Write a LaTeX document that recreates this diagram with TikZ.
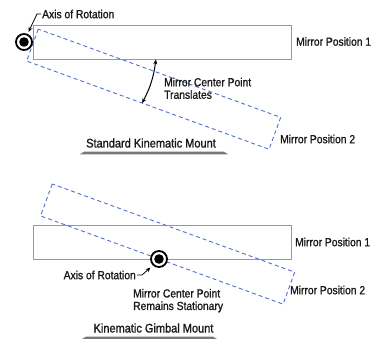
\documentclass[tikz,border=0pt]{standalone}
\usepackage{fontspec}
\setmainfont{Liberation Sans}[FakeStretch=0.88, FakeBold=1.2]
\usetikzlibrary{arrows.meta}
\definecolor{mirrorblue}{RGB}{128,152,214}
\definecolor{dashblue}{RGB}{78,112,206}
\definecolor{barg}{RGB}{120,120,120}
\definecolor{txt}{RGB}{25,25,25}
\begin{document}
\begin{tikzpicture}[x=1pt,y=-1pt,
  lbl/.style={font=\fontsize{11.7}{12}\selectfont, text=txt, inner sep=0pt, anchor=base west},
  lbltwo/.style={font=\fontsize{11.7}{12.5}\selectfont, text=txt, inner sep=0pt, anchor=north west, align=left},
  heading/.style={font=\fontsize{12.5}{13}\selectfont, text=txt, inner sep=0pt, anchor=base},
  mirrorpos/.style={draw=mirrorblue, line width=0.9pt},
  mirrordash/.style={draw=dashblue, line width=0.9pt, dash pattern=on 4pt off 3pt},
  axisring/.style={circle, draw=black, line width=1.8pt, fill=white, minimum size=16pt, inner sep=0pt},
  leader/.style={draw=black, line width=0.8pt, -{Stealth[length=5pt,width=4pt]}},
  swing/.style={draw=black, line width=1pt, {Stealth[length=5pt,width=4pt]}-{Stealth[length=5pt,width=4pt]}}
]
\useasboundingbox (0,0) rectangle (377,339);

% ---------------- Standard kinematic mount ----------------
\draw[mirrorpos] (33,25) rectangle (291,59);
\begin{scope}[shift={(24,42)}, rotate=-20]
  \draw[mirrordash] (9,-17) rectangle (267,17);
\end{scope}
\node[axisring] (ax1) at (24,42) {};
\fill[black] (ax1.center) circle[radius=4.8pt];

\node[lbl] (axl1) at (42,18.2) {Axis of Rotation};
\coordinate (ax1tip) at (28.5,32);
\draw[leader] ([xshift=-1pt]axl1.west) -- ++(-4,0) -- (ax1tip);

\node[lbl] (mp1a) at (296,45.7) {Mirror Position 1};
\node[lbl] (mp2a) at (280,143.2) {Mirror Position 2};

\coordinate (arcA) at (155.9,59.4);
\coordinate (arcB) at (142.1,103.2);
\draw[swing] (arcA) to[bend left=10] (arcB);
\node[lbltwo] (ctr1) at (164,77.6) {Mirror Center Point\\Translates};

\node[heading] (h1) at (151,147.5) {Standard Kinematic Mount};
\fill[barg] (80,154.3) -- (84,151.7) -- (224,151.7) -- (228,154.3) -- cycle;

% ---------------- Kinematic gimbal mount ----------------
\draw[mirrorpos] (33,225) rectangle (291,259);
\begin{scope}[shift={(159,259)}, rotate=-20]
  \draw[mirrordash] (-126,-34) rectangle (132,0);
\end{scope}
\node[axisring] (ax2) at (159,259) {};
\fill[black] (ax2.center) circle[radius=4.8pt];

\node[lbl, anchor=base east] (axl2) at (136,279.2) {Axis of Rotation};
\coordinate (ax2tip) at (150.5,267.5);
\draw[leader] ([xshift=1pt]axl2.east) -- ++(5,0) -- (ax2tip);

\node[lbl] (mp1b) at (295,246.2) {Mirror Position 1};
\node[lbl] (mp2b) at (290,294.2) {Mirror Position 2};
\node[lbltwo] (ctr2) at (133,288.8) {Mirror Center Point\\Remains Stationary};

\node[heading] (h2) at (153.5,332.5) {Kinematic Gimbal Mount};
\fill[barg] (82,339) -- (86,336.6) -- (213,336.6) -- (217,339) -- cycle;
\end{tikzpicture}
\end{document}
